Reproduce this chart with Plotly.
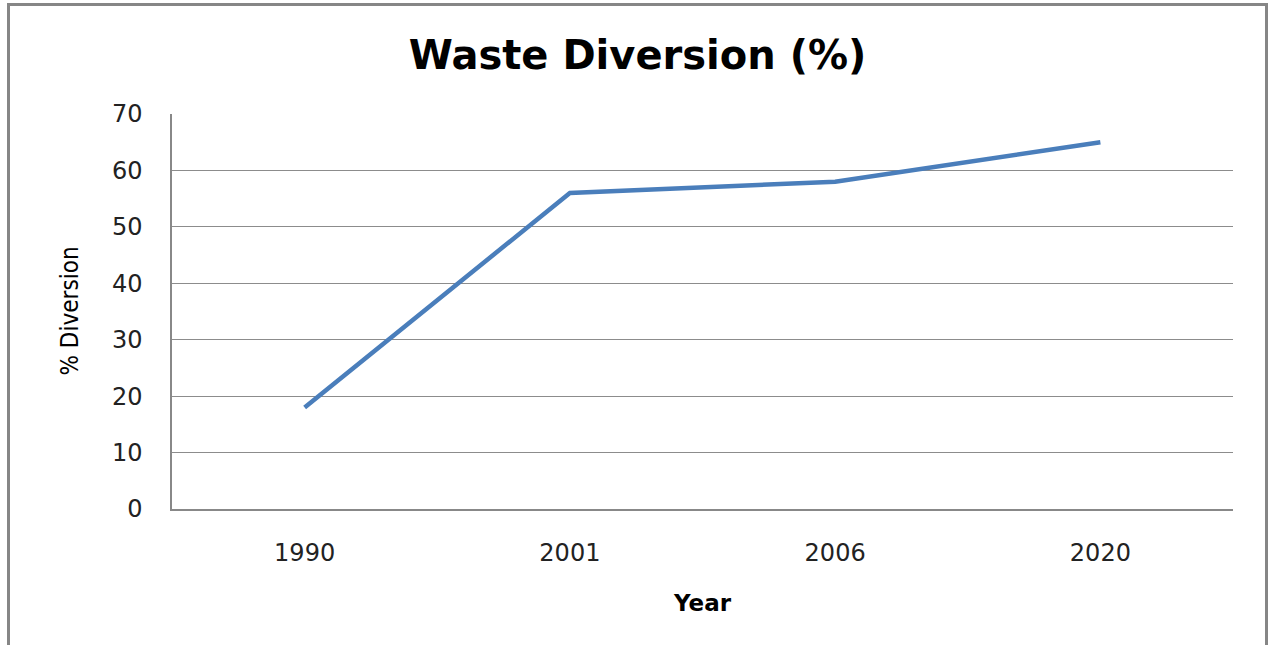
import plotly.graph_objects as go

years = ["1990", "2001", "2006", "2020"]
diversion = [18, 56, 58, 65]
y_ticks = [0, 10, 20, 30, 40, 50, 60, 70]

W, H = 1270, 645
L, R, T, B = 172, 37, 114, 136
pw, ph = W - L - R, H - T - B

def px_to_paper_x(px):
    return (px - L) / pw

def px_to_paper_y(py):
    return (H - B - py) / ph

fig = go.Figure()
fig.add_trace(go.Scatter(
    x=years, y=diversion, mode="lines",
    line=dict(color="#4a7ebb", width=4.5),
    showlegend=False, hoverinfo="skip",
))

fig.update_layout(
    width=W, height=H,
    margin=dict(l=L, r=R, t=T, b=B, pad=0),
    paper_bgcolor="white", plot_bgcolor="white",
    title=dict(
        text="<b>Waste Diversion (%)</b>",
        x=637.5 / W, xanchor="center", xref="container",
        y=1 - 55 / H, yanchor="middle", yref="container",
        font=dict(family="DejaVu Sans", size=40, color="#000000"),
    ),
    font=dict(family="DejaVu Sans", color="#222222"),
)

fig.update_xaxes(
    type="category", categoryorder="array", categoryarray=years,
    range=[-0.5, len(years) - 0.5],
    showgrid=False, showline=True, linecolor="#888888", linewidth=1.5,
    ticks="", tickfont=dict(family="DejaVu Sans", size=24, color="#222222"),
    ticklabelstandoff=21, zeroline=False,
)
fig.update_yaxes(
    range=[0, 70], tickvals=y_ticks, ticktext=[str(v) for v in y_ticks],
    showgrid=True, gridcolor="#8c8c8c", gridwidth=1.2,
    showline=True, linecolor="#888888", linewidth=1.5,
    ticks="", tickfont=dict(family="DejaVu Sans", size=24, color="#222222"),
    ticklabelstandoff=23, zeroline=False,
)

# Axis titles
fig.add_annotation(
    text="% Diversion", textangle=-90, showarrow=False,
    xref="paper", yref="paper", x=px_to_paper_x(69), y=0.5,
    xanchor="center", yanchor="middle",
    font=dict(family="Liberation Sans Narrow, DejaVu Sans Condensed, DejaVu Sans", size=24, color="#000000"),
)
fig.add_annotation(
    text="<b>Year</b>", showarrow=False,
    xref="paper", yref="paper", x=0.5, y=px_to_paper_y(603),
    xanchor="center", yanchor="middle",
    font=dict(family="DejaVu Sans", size=23, color="#000000"),
)

# Outer chart border
fig.add_shape(
    type="rect", xref="paper", yref="paper",
    x0=px_to_paper_x(8.5), x1=px_to_paper_x(1266.5),
    y0=px_to_paper_y(680), y1=px_to_paper_y(4.5),
    line=dict(color="#868686", width=3), fillcolor="rgba(0,0,0,0)",
    layer="below",
)

fig.write_html("out.html")
